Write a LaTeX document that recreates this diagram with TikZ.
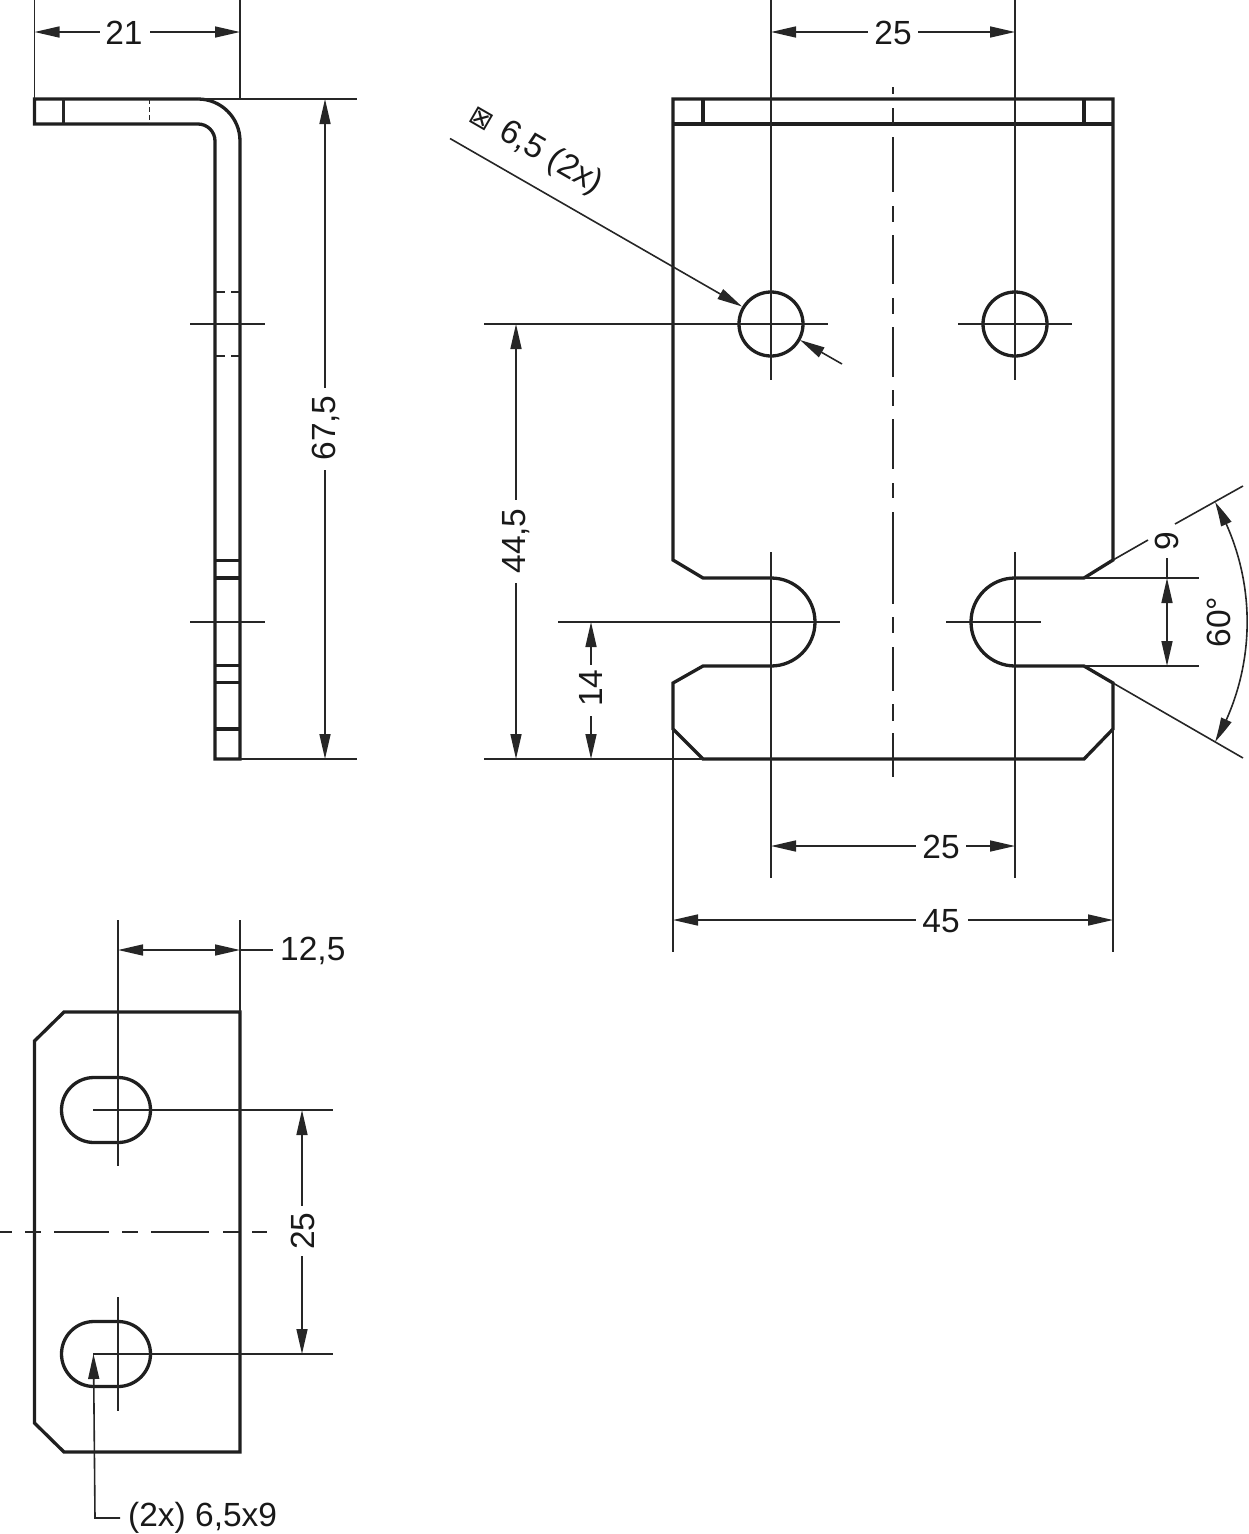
\documentclass[tikz,border=0pt]{standalone}
\usepackage{fontspec}
\setmainfont{Liberation Sans}
\newfontfamily\symfont{DejaVu Sans}
\usetikzlibrary{arrows.meta,bending}
\tikzset{
  x=1pt,y=-1pt,
  part/.style={line width=3.3pt,line join=miter,draw=black!88},
  thin line/.style={line width=1.6pt,draw=black!85},
  dim/.style={thin line,{Triangle[length=25pt,width=11pt]}-{Triangle[length=25pt,width=11pt]}},
  tipstart/.style={thin line,{Triangle[length=25pt,width=11pt]}-},
  tipend/.style={thin line,-{Triangle[length=25pt,width=11pt]}},
  lab/.style={inner sep=0pt,font=\fontsize{33.5}{33.5}\selectfont,text=black!90},
  labv/.style={lab,rotate=90},
}
\begin{document}
\begin{tikzpicture}
\useasboundingbox (0,0) rectangle (1249,1534);
% ---- side view
\draw[part] (34.5,124) -- (34.5,99) -- (198,99) arc[start angle=-90,end angle=0,radius=42] -- (240,759) -- (215,759) -- (215,141) arc[start angle=0,end angle=-90,radius=17] -- cycle;
\draw[line width=3pt,draw=black!85] (63,99) -- (63,124);
\draw[thin line,dash pattern=on 5pt off 3pt] (149.5,99) -- (149.5,124);
\foreach \yy in {560.5,578,665.5,682.5,729}{\draw[part] (215,\yy) -- (240,\yy);}
\foreach \yy in {292,356}{
  \draw[thin line] (215,\yy) -- (224.5,\yy) (231,\yy) -- (240,\yy);
}
\draw[thin line] (190,324) -- (265,324);
\draw[thin line] (190,622) -- (265,622);
% dim 21
\draw[thin line] (34.5,0) -- (34.5,99) (240,0) -- (240,99);
\node[lab] (d21) at (124,33) {21};
\coordinate (d21a) at (34.5,32);
\coordinate (d21b) at (240,32);
\draw[tipstart] (d21a) -- (100,32);
\draw[tipend] (150,32) -- (d21b);
% dim 67,5
\draw[thin line] (198,99) -- (357,99) (240,759) -- (357,759);
\node[labv] (d67) at (326,428) {67,5};
\draw[tipstart] (325,99) -- (325,388);
\draw[tipend] (325,470) -- (325,759);
% ---- front view
\draw[part] (673,99) -- (1113,99) -- (1113,560) -- (1084,578) -- (1015,578)
  arc[start angle=-90,end angle=-270,radius=44] -- (1084,666) -- (1113,683) -- (1113,729) -- (1084,759) -- (703,759) -- (673,729) -- (673,683) -- (703,666) -- (771,666)
  arc[start angle=90,end angle=-90,radius=44] -- (703,578) -- (673,560) -- cycle;
\draw[part] (673,124) -- (1113,124) (703,99) -- (703,124) (1084,99) -- (1084,124);
\draw[part] (771,324) circle[radius=32];
\draw[part] (1015,324) circle[radius=32];
% centre line
\foreach \a/\b in {87/94,108/124,137/192,206/222,235/284,298/314,327/377,390/406,419/469,483/498,512/604,617/633,647/691,704/721,733/777}{
  \draw[thin line] (893,\a) -- (893,\b);
}
% extension / centre
\draw[thin line] (771,0) -- (771,380) (1015,0) -- (1015,380);
\draw[thin line] (771,552) -- (771,878) (1015,552) -- (1015,878);
\draw[thin line] (484,324) -- (828,324) (958,324) -- (1072,324);
\draw[thin line] (558,622) -- (840,622) (946,622) -- (1041,622);
\draw[thin line] (484,759) -- (703,759);
\draw[thin line] (673,729) -- (673,952) (1113,729) -- (1113,952);
% dim top 25
\node[lab] (d25t) at (893,33) {25};
\draw[tipstart] (771,32) -- (868,32);
\draw[tipend] (918,32) -- (1015,32);
% dim lower 25
\node[lab] (d25b) at (941,847) {25};
\draw[tipstart] (771,846) -- (916,846);
\draw[tipend] (966,846) -- (1015,846);
% dim 45
\node[lab] (d45) at (941,921) {45};
\draw[tipstart] (673,920) -- (916,920);
\draw[tipend] (968,920) -- (1113,920);
% dim 44,5
\node[labv] (d44) at (516,541) {44,5};
\draw[tipstart] (516,324) -- (516,500);
\draw[tipend] (516,583) -- (516,759);
% dim 14
\node[labv] (d14) at (591,688) {14};
\draw[tipstart] (591,622) -- (591,665);
\draw[tipend] (591,716) -- (591,759);
% leader hole
\coordinate (la) at (450,138.5);
\coordinate (lb) at (742,306.5);
\draw[tipend] (la) -- (lb);
\coordinate (lc) at (842,364);
\coordinate (ld) at (800,340);
\draw[tipend] (lc) -- (ld);
\node[lab,rotate=-30,anchor=west] (dhole) at (472,113) {{\symfont\fontsize{27}{27}\selectfont ⊠}\kern2pt{} 6,5 (2x)};
% dim 9
\draw[thin line] (1084,578) -- (1199,578) (1084,666) -- (1199,666);
\node[labv] (d9) at (1167,541) {9};
\draw[thin line] (1167,558) -- (1167,578);
\draw[dim] (1167,578) -- (1167,666);
% angle 60
\draw[thin line] (1113,560) -- (1148,540) (1175,524) -- (1243,486);
\draw[thin line] (1113,683) -- (1243,758);
\draw[thin line,{Triangle[length=25pt,width=11pt,flex=1,bend]}-{Triangle[length=25pt,width=11pt,flex=1,bend]}] (1215,502) arc[start angle=-30,end angle=30,radius=240];
\node[labv] (d60) at (1219,622) {60°};
% ---- bottom view
\draw[part] (64,1012) -- (240,1012) -- (240,1452) -- (64,1452) -- (34.5,1423) -- (34.5,1041) -- cycle;
\foreach \yy in {1110,1354}{
  \draw[part] (94,\yy-32.5) -- (118,\yy-32.5) arc[start angle=-90,end angle=90,radius=32.5] -- (94,\yy+32.5) arc[start angle=90,end angle=270,radius=32.5] -- cycle;
  \draw[thin line] (93,\yy) -- (333,\yy);
}
\draw[thin line] (118,920) -- (118,1166) (118,1297) -- (118,1411);
\draw[thin line] (240,920) -- (240,1012);
% centre line
\foreach \a/\b in {0/12,25/41,54/109,122/138,151/209,223/239,252/267}{
  \draw[thin line] (\a,1232) -- (\b,1232);
}
% dim 12,5
\node[lab,anchor=west] (d12) at (280,951) {12,5};
\draw[dim] (118,950) -- (240,950);
\draw[thin line] (240,950) -- (273,950);
% dim 25
\node[labv] (d25v) at (303,1231) {25};
\draw[tipstart] (302,1110) -- (302,1206);
\draw[tipend] (302,1256) -- (302,1354);
% leader
\node[lab,anchor=west] (d2x) at (128,1518) {(2x) 6,5x9};
\coordinate (lt) at (93.5,1354);
\draw[tipstart] (lt) -- (95,1518) -- (120,1518);
\end{tikzpicture}
\end{document}
